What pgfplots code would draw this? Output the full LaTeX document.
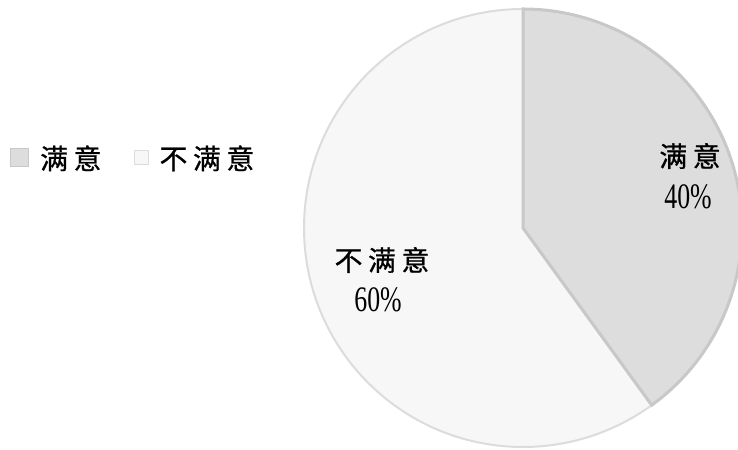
\documentclass[border=0pt]{standalone}
\usepackage{fontspec}
\setmainfont{Liberation Serif}
\newfontfamily\cjk[LetterSpace=20,FakeBold=0.8]{Noto Sans CJK SC}
\newfontfamily\numfont[FakeStretch=0.72]{Liberation Serif}
\usepackage{pgfplots}
\usepackage{pgfplotstable}
\pgfplotsset{compat=1.18}
\definecolor{sA}{HTML}{DDDDDD}
\definecolor{sAedge}{HTML}{C8C8C8}
\definecolor{sB}{HTML}{F7F7F7}
\definecolor{sBedge}{HTML}{DCDCDC}
\pgfplotstableread{
share
40
60
}\pietable
\pgfplotstablegetelem{0}{share}\of\pietable \let\shareA\pgfplotsretval
\pgfplotstablegetelem{1}{share}\of\pietable \let\shareB\pgfplotsretval
\pgfmathsetmacro{\angA}{90-3.6*\shareA}
\pgfmathsetmacro{\angB}{90+3.6*\shareB}
\begin{document}
\begin{tikzpicture}
\begin{axis}[
  scale only axis, width=738bp, height=450bp,
  xmin=0, xmax=738, ymin=0, ymax=450,
  hide axis, clip=true,
  legend columns=2,
  legend style={at={(axis cs:7,292)}, anchor=west, draw=none, fill=none,
    font=\cjk\fontsize{28}{30}\selectfont, column sep=9bp,
    /tikz/every even column/.append style={column sep=30bp}},
  legend cell align=left,
]
\addlegendimage{legend image code/.code={\fill[sA,draw=sAedge,line width=1bp] (0bp,-9bp) rectangle (18bp,9bp);}}
\addlegendentry{满意}
\addlegendimage{legend image code/.code={\fill[sB,draw=sBedge,line width=1bp] (2bp,-7bp) rectangle (16bp,7bp);}}
\addlegendentry{不满意}
\path (axis cs:0,0) rectangle (axis cs:738,450);
\filldraw[fill=sB, draw=sBedge, line width=2bp] (axis cs:523,222) -- ++(90:219bp) arc[start angle=90, end angle=\angB, radius=219bp] -- cycle;
\filldraw[fill=sA, draw=sAedge, line width=3bp] (axis cs:523,222) -- ++(\angA:219bp) arc[start angle=\angA, end angle=90, radius=219bp] -- cycle;
\node[font=\cjk\fontsize{28}{30}\selectfont] at (axis cs:690,294) {满意};
\node[font=\numfont\fontsize{36}{38}\selectfont] at (axis cs:688,253) {40\%};
\node[font=\cjk\fontsize{28}{30}\selectfont] at (axis cs:382,190) {不满意};
\node[font=\numfont\fontsize{36}{38}\selectfont] at (axis cs:378,150) {60\%};
\end{axis}
\end{tikzpicture}
\end{document}
